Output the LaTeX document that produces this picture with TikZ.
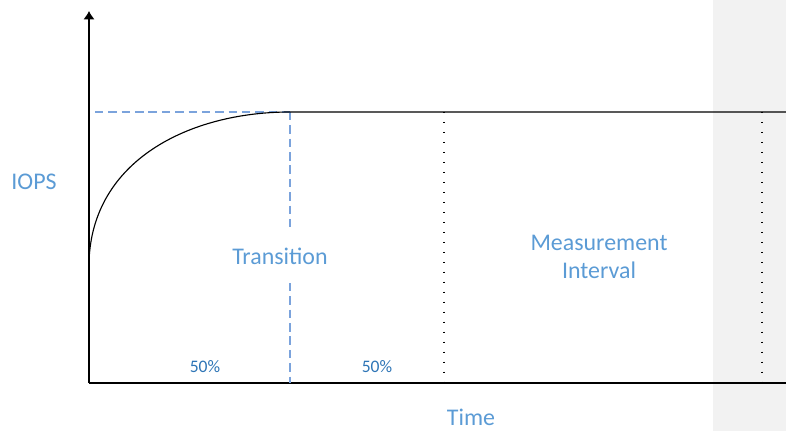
\documentclass[tikz,border=0pt]{standalone}
\usepackage{fontspec}
\setmainfont{Carlito}
\usepackage{xcolor}
\usetikzlibrary{arrows.meta}
\definecolor{lblue}{HTML}{5B9BD5}
\definecolor{dblue}{HTML}{2E75B6}
\definecolor{dashblue}{HTML}{7BA3DC}
\definecolor{bandgray}{HTML}{F2F2F2}

\begin{document}
\begin{tikzpicture}[x=0.025cm, y=-0.025cm]
        % ================= 样式 =================
        \tikzset{
            % 坐标轴
            axis_line/.style={thick, black},
            % 蓝色虚线
            blue_dash/.style={thick, dashblue, dash pattern=on 6pt off 3.5pt},
            % 黑色点线
            dot_line/.style={black, line width=0.9pt, dash pattern=on 0.9pt off 6.2pt},
            % 文字
            big_label/.style={lblue, font=\fontsize{17}{20}\selectfont, align=center, inner sep=1pt},
            small_label/.style={dblue, font=\fontsize{12.5}{15}\selectfont}
        }

        % 边界与灰色背景带
        \useasboundingbox (0,0) rectangle (786,431);
        \fill[bandgray] (713,0) rectangle (786,431);

        % ================= 坐标点 =================
        \coordinate (origin) at (89,383);
        \coordinate (ytop) at (89,11);
        \coordinate (xend) at (786,383);
        \coordinate (start) at (89,262);
        \coordinate (knee) at (290,112);
        \coordinate (flat_end) at (786,112);
        \coordinate (dash_start) at (95,112);
        \coordinate (gap_top) at (290,228);
        \coordinate (gap_bot) at (290,283);
        \coordinate (m_top) at (444,112);
        \coordinate (m_bot) at (444,383);
        \coordinate (r_top) at (762,112);
        \coordinate (r_bot) at (762,383);

        % ================= 坐标轴 =================
        \draw[axis_line, -{Latex[length=6pt, width=8pt]}] (origin) -- (ytop);
        \draw[axis_line] (origin) -- (xend);

        % ================= 文字 =================
        \node[big_label] (iops) at (34,182) {IOPS};
        \node[big_label] (time) at (471,417) {Time};
        \node[big_label] (trans) at (280,256) {Transition};
        \node[big_label] (meas) at (599,257) {Measurement\\Interval};
        \node[small_label] (p1) at (205,367) {50\%};
        \node[small_label] (p2) at (377,367) {50\%};

        % ================= 虚线 =================
        \draw[blue_dash] (dash_start) -- (knee);
        \draw[blue_dash] (knee) -- (gap_top);
        \draw[blue_dash] (gap_bot) -- (knee |- origin);

        % ================= 曲线 =================
        \draw[thick, black] (start) .. controls (92,160) and (190,112) .. (knee) -- (flat_end);

        % ================= 点线 =================
        \draw[dot_line] (m_top) -- (m_bot);
        \draw[dot_line] (r_top) -- (r_bot);

    \end{tikzpicture}
\end{document}
